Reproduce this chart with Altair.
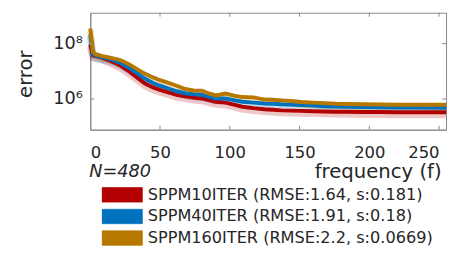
import altair as alt
import pandas as pd

freq = [0, 2, 4, 8, 15, 22, 27, 33, 39, 45, 50, 56, 62, 68, 74, 80, 85, 90, 97,
        103, 109, 117, 125, 131, 137, 144, 151, 160, 168, 176, 184, 196, 208, 220, 235, 255]
# log10(error)
exp_10 = [7.97, 7.57, 7.55, 7.50, 7.37, 7.20, 7.03, 6.80, 6.57, 6.42, 6.33, 6.24, 6.15, 6.10, 6.05, 6.02,
          5.96, 5.90, 5.87, 5.80, 5.72, 5.67, 5.63, 5.61, 5.59, 5.58, 5.57, 5.56, 5.55, 5.54, 5.54, 5.53,
          5.53, 5.52, 5.52, 5.52]
exp_40 = [8.33, 7.62, 7.57, 7.52, 7.43, 7.30, 7.15, 6.95, 6.74, 6.58, 6.48, 6.38, 6.28, 6.21, 6.17, 6.15,
          6.08, 6.02, 6.02, 5.96, 5.90, 5.87, 5.84, 5.83, 5.81, 5.80, 5.78, 5.76, 5.74, 5.73, 5.72, 5.71,
          5.70, 5.69, 5.69, 5.68]
exp_160 = [8.55, 7.70, 7.62, 7.56, 7.49, 7.40, 7.28, 7.10, 6.92, 6.78, 6.68, 6.58, 6.48, 6.36, 6.31, 6.30,
           6.20, 6.13, 6.20, 6.12, 6.07, 6.06, 5.98, 5.97, 5.95, 5.93, 5.89, 5.87, 5.85, 5.83, 5.82, 5.81,
           5.80, 5.79, 5.79, 5.79]

names = ["SPPM10ITER (RMSE:1.64, s:0.181)",
         "SPPM40ITER (RMSE:1.91, s:0.18)",
         "SPPM160ITER (RMSE:2.2, s:0.0669)"]
colors = ["#B30000", "#0072BD", "#B77800"]
x_labels = [0, 50, 100, 150, 200, 250]
x_ticks = [50, 100, 150, 200, 250]
y_ticks = [1e6, 1e8]
note = "N=480"

rows = []
for name, exps in zip(names, [exp_10, exp_40, exp_160]):
    for f, e in zip(freq, exps):
        rows.append({"f": f, "err": 10 ** e, "series": name})
df = pd.DataFrame(rows)

W, H = 362, 119
FONT = "DejaVu Sans"
TXT = "#262626"
GRAY = "#888888"

xscale = alt.Scale(domain=[0, 255], nice=False, zero=False)
yscale = alt.Scale(type="log", domain=[10 ** 4.89, 10 ** 9.12], nice=False)
cscale = alt.Scale(domain=names, range=colors)

xaxis = alt.Axis(values=x_labels, title="frequency (f)", ticks=False,
                 grid=False, labelFlush=8, labelPadding=15, labelFontSize=16.7,
                 labelFont=FONT, labelColor=TXT, titleFont=FONT, titleFontSize=20,
                 titleFontWeight="normal", titleColor=TXT, titleAnchor="end",
                 titleAlign="right", titleBaseline="alphabetic", titleX=357, titleY=49,
                 domainColor=GRAY)
yaxis = alt.Axis(values=y_ticks, title="error", ticks=False, grid=False,
                 labelExpr="datum.value >= 1e7 ? '10⁸' : '10⁶'",
                 labelPadding=8, labelFontSize=18, labelFont=FONT, labelColor=TXT,
                 titleFont=FONT, titleFontSize=20, titleFontWeight="normal", titleColor=TXT,
                 titleAngle=270, titleAlign="center", titleBaseline="alphabetic",
                 titleX=-60, titleY=62, domainColor=GRAY)

def X(field):
    return alt.X(field, scale=xscale, axis=xaxis)

def Y(field):
    return alt.Y(field, scale=yscale, axis=yaxis)

base = alt.Chart(df)

halo_layers = []
line_layers = []
for i, name in enumerate(names):
    halo_layers.append(
        base.transform_filter(alt.datum.series == name)
        .mark_line(strokeWidth=7, opacity=0.22, yOffset=2.5)
        .encode(x=X("f:Q"), y=Y("err:Q"),
                stroke=alt.Stroke("series:N", scale=cscale, legend=None))
    )
    line_layers.append(
        base.transform_filter(alt.datum.series == name)
        .mark_line(strokeWidth=4)
        .encode(x=X("f:Q"), y=Y("err:Q"),
                stroke=alt.Stroke("series:N", scale=cscale, legend=None))
    )

# invisible layer that carries the filled legend
legend_layer = base.mark_point(opacity=0, filled=True).encode(
    x=X("f:Q"), y=Y("err:Q"),
    fill=alt.Fill("series:N", scale=cscale,
                  legend=alt.Legend(title=None, orient="none", legendX=11.5, legendY=176.8,
                                    symbolType="M-1,-0.36L1,-0.36L1,0.36L-1,0.36Z",
                                    symbolSize=1681, symbolStrokeColor="#cccccc",
                                    symbolStrokeWidth=0.7, symbolOpacity=1,
                                    labelFont=FONT, labelFontSize=16.4, labelColor=TXT,
                                    labelOffset=5, rowPadding=5, padding=0,
                                    clipHeight=17, labelLimit=400)),
)

xt = pd.DataFrame({"t": x_ticks})
yt = pd.DataFrame({"t": y_ticks})
tick_bottom = alt.Chart(xt).mark_rule(color=GRAY, strokeWidth=1).encode(
    x=X("t:Q"), y=alt.value(H), y2=alt.value(H - 4))
tick_top = alt.Chart(xt).mark_rule(color=GRAY, strokeWidth=1).encode(
    x=X("t:Q"), y=alt.value(0), y2=alt.value(4))
tick_left = alt.Chart(yt).mark_rule(color=GRAY, strokeWidth=1).encode(
    y=Y("t:Q"), x=alt.value(0), x2=alt.value(4))
tick_right = alt.Chart(yt).mark_rule(color=GRAY, strokeWidth=1).encode(
    y=Y("t:Q"), x=alt.value(W), x2=alt.value(W - 4))

note_text = alt.Chart(pd.DataFrame({"t": [note]})).mark_text(
    align="left", baseline="alphabetic", font=FONT, fontSize=18, fontStyle="italic", color=TXT
).encode(x=alt.value(-1), y=alt.value(167.5), text="t:N")

chart = alt.layer(
    legend_layer, *halo_layers, *line_layers,
    tick_bottom, tick_top, tick_left, tick_right, note_text
).properties(
    width=W, height=H,
    autosize=alt.AutoSizeParams(type="none"),
    padding={"left": 83.7, "top": 2.7, "right": 3, "bottom": 122},
).configure_view(stroke=GRAY, strokeWidth=1).configure_axis(domainWidth=1)

chart.save("out.html", embed_options={"renderer": "svg", "actions": False})
